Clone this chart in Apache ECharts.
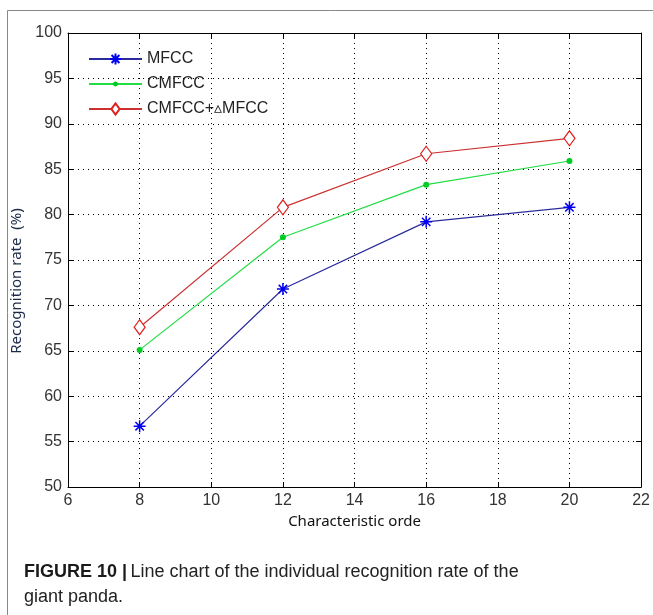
<!DOCTYPE html>
<html>
<head>
<meta charset="utf-8">
<style>
  html, body { margin: 0; padding: 0; background: #fff; }
  #chart { width: 653px; height: 615px; }
</style>
<script src="https://cdn.jsdelivr.net/npm/echarts@6/dist/echarts.min.js"></script>
</head>
<body>
<div id="chart"></div>
<script>
// characteristic order (x) and recognition rates (%)
const orders = [8, 12, 16, 20];
const mfcc = [56.7, 71.8, 79.2, 80.8];
const cmfcc = [65.1, 77.5, 83.3, 85.9];
const cmfccDelta = [67.6, 80.8, 86.7, 88.4];
const seriesNames = ['MFCC', 'CMFCC', 'CMFCC+\u25B5MFCC'];
const xTicks = [6, 22, 2];   // min, max, step
const yTicks = [50, 100, 5];

const font = '"Liberation Sans", Arial, sans-serif';
const nameFont = '"Noto Sans", "Open Sans", sans-serif';
// matlab style markers; the lone moveTo points pad the box so the legend icon stays small
const starPath = 'path://M0,-10L0,10M-10,0L10,0M-7,-7L7,7M-7,7L7,-7';
const dotPath = 'path://M-7,-7M7,7M-3,0A3,3 0 1 0 3,0A3,3 0 1 0 -3,0Z';
const diamondPath = 'path://M-7.5,-7.5M7.5,7.5M0,-7.5L5.5,0L0,7.5L-5.5,0Z';

function pairs(vals) {
    return orders.map((x, i) => [x, vals[i]]);
}

const chart = echarts.init(document.getElementById('chart'));

const dotted = { show: true, lineStyle: { color: '#000', type: [1, 4], width: 1 } };

let option = {
    animation: false,
    backgroundColor: '#fff',
    grid: { left: 68, right: 10, top: 33, bottom: 128 },
    legend: {
        orient: 'vertical',
        left: 83,
        top: 46,
        itemWidth: 53,
        itemHeight: 14,
        itemGap: 9,
        textStyle: { fontFamily: font, fontSize: 16, color: '#222' },
        data: seriesNames
    },
    xAxis: [{
        type: 'value',
        min: xTicks[0], max: xTicks[1], interval: xTicks[2],
        name: 'Characteristic orde',
        nameLocation: 'middle',
        nameGap: 24,
        nameTextStyle: { fontFamily: nameFont, fontSize: 15, color: '#111' },
        axisLine: { lineStyle: { color: '#000' } },
        axisTick: { inside: true, length: 5, lineStyle: { color: '#000' } },
        axisLabel: { fontFamily: font, fontSize: 16, color: '#333', margin: 6 },
        splitLine: dotted
    }, {
        type: 'value', position: 'top',
        min: xTicks[0], max: xTicks[1], interval: xTicks[2],
        axisLine: { lineStyle: { color: '#000' } },
        axisTick: { inside: true, length: 5, lineStyle: { color: '#000' } },
        axisLabel: { show: false },
        splitLine: { show: false }
    }],
    yAxis: [{
        type: 'value',
        min: yTicks[0], max: yTicks[1], interval: yTicks[2],
        name: 'Recognition rate  (%)',
        nameLocation: 'middle',
        nameGap: 40,
        nameTextStyle: { fontFamily: nameFont, fontSize: 15, color: '#1b2a48', padding: [0, 42, 0, 0] },
        axisLine: { show: true, lineStyle: { color: '#000' } },
        axisTick: { show: true, inside: true, length: 5, lineStyle: { color: '#000' } },
        axisLabel: { fontFamily: font, fontSize: 16, color: '#333', margin: 6 },
        splitLine: dotted
    }, {
        type: 'value', position: 'right',
        min: yTicks[0], max: yTicks[1], interval: yTicks[2],
        axisLine: { show: true, lineStyle: { color: '#000' } },
        axisTick: { show: true, inside: true, length: 5, lineStyle: { color: '#000' } },
        axisLabel: { show: false },
        splitLine: { show: false }
    }],
    series: [
        {
            name: seriesNames[0],
            type: 'line',
            data: pairs(mfcc),
            symbol: starPath,
            symbolSize: 12,
            lineStyle: { color: '#2b2b9c', width: 1.2 },
            itemStyle: { color: '#0000ee', borderColor: '#0000ee', borderWidth: 1.5 }
        },
        {
            name: seriesNames[1],
            type: 'line',
            data: pairs(cmfcc),
            symbol: dotPath,
            symbolSize: 14,
            lineStyle: { color: '#22dd44', width: 1.2 },
            itemStyle: { color: '#00cc22' }
        },
        {
            name: seriesNames[2],
            type: 'line',
            data: pairs(cmfccDelta),
            symbol: diamondPath,
            symbolSize: 15,
            lineStyle: { color: '#cc3030', width: 1.2 },
            itemStyle: { color: '#fff', borderColor: '#dd2020', borderWidth: 1.2 }
        }
    ],
    graphic: [
        { type: 'line', shape: { x1: 7.5, y1: 10.5, x2: 653, y2: 10.5 }, style: { stroke: '#888', lineWidth: 1 } },
        { type: 'line', shape: { x1: 7.5, y1: 10.5, x2: 7.5, y2: 615 }, style: { stroke: '#888', lineWidth: 1 } },
        {
            type: 'text', left: 24, top: 560,
            style: {
                text: '{b|FIGURE 10 |} {n|Line chart of the individual recognition rate of the}\n{n|giant panda.}',
                lineHeight: 25,
                rich: {
                    b: { fontFamily: font, fontSize: 18, fontWeight: 'bold', fill: '#1a1a1a', lineHeight: 25 },
                    n: { fontFamily: font, fontSize: 18, fill: '#222', lineHeight: 25 }
                }
            }
        }
    ]
};

chart.setOption(option);
</script>
</body>
</html>
